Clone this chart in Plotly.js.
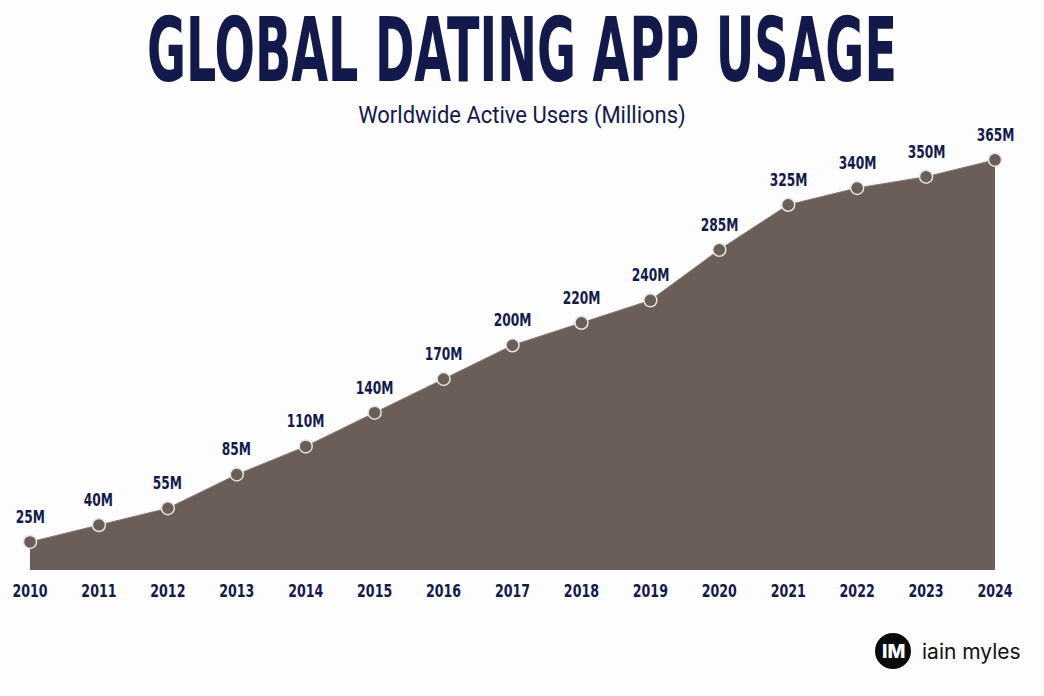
<!DOCTYPE html>
<html>
<head>
<meta charset="utf-8">
<script src="https://cdn.plot.ly/plotly-3.0.1.min.js"></script>
<style>
  html, body { margin: 0; padding: 0; background: #fdfdfd; }
  #chart { width: 1044px; height: 696px; }
</style>
</head>
<body>
<div id="chart"></div>
<script>
const years = [2010, 2011, 2012, 2013, 2014, 2015, 2016, 2017, 2018, 2019, 2020, 2021, 2022, 2023, 2024];
const users = [25, 40, 55, 85, 110, 140, 170, 200, 220, 240, 285, 325, 340, 350, 365];
const valueLabels = ["25M", "40M", "55M", "85M", "110M", "140M", "170M", "200M", "220M", "240M", "285M", "325M", "340M", "350M", "365M"];
const yearLabels = ["2010", "2011", "2012", "2013", "2014", "2015", "2016", "2017", "2018", "2019", "2020", "2021", "2022", "2023", "2024"];

const W = 1044, H = 696;
const navy = "#131a4b";
const fillC = "#6b5e58";
const narrow = "'DejaVu Sans Condensed', 'DejaVu Sans', sans-serif";

const trace = {
  x: years,
  y: users,
  type: "scatter",
  mode: "lines+markers",
  fill: "tozeroy",
  fillcolor: fillC,
  line: { color: "#857a75", width: 1 },
  marker: { size: 13, color: fillC, line: { color: "#e6e3e2", width: 1.5 } },
  cliponaxis: false,
  hoverinfo: "skip"
};

const annotations = years.map((yr, i) => ({
  x: yr, y: users[i], xref: "x", yref: "y",
  text: valueLabels[i], showarrow: false,
  yanchor: "bottom", yshift: 13,
  font: { family: narrow, size: 17, color: navy, weight: 700 }
}));

annotations.push({
  x: 920 / W, y: 1 - 651 / H, xref: "paper", yref: "paper",
  xanchor: "left", yanchor: "middle",
  text: "iain myles", showarrow: false,
  font: { family: "Inter, Roboto, sans-serif", size: 21, color: "#111" }
});
annotations.push({
  x: 893 / W, y: 1 - 651 / H, xref: "paper", yref: "paper",
  xanchor: "center", yanchor: "middle",
  text: "IM", showarrow: false,
  font: { family: "Inter, Roboto, sans-serif", size: 19, color: "#ffffff", weight: 800 }
});
annotations.push({
  x: 0.5, y: 1 - 115 / H, xref: "paper", yref: "paper",
  xanchor: "center", yanchor: "middle",
  text: "Worldwide Active Users (Millions)", showarrow: false,
  font: { family: "Roboto, sans-serif", size: 22, color: navy }
});

const layout = {
  width: W, height: H,
  margin: { l: 0, r: 0, t: 0, b: 0 },
  paper_bgcolor: "#fdfdfd",
  plot_bgcolor: "rgba(0,0,0,0)",
  showlegend: false,
  title: {
    text: "GLOBAL DATING APP USAGE",
    x: 0.5, xanchor: "center",
    xref: "paper", yref: "paper",
    y: 1 - 50 / H, yanchor: "middle",
    font: { family: narrow, size: 48, color: navy, weight: 700 }
  },
  xaxis: {
    domain: [30 / W, 995 / W],
    range: [2010, 2024],
    tickvals: years, ticktext: yearLabels,
    showgrid: false, zeroline: false, showline: false,
    ticks: "outside", ticklen: 4, tickcolor: "rgba(0,0,0,0)",
    tickfont: { family: narrow, size: 18, color: navy, weight: 700 },
    fixedrange: true
  },
  yaxis: {
    domain: [(H - 570) / H, (H - 143) / H],
    range: [0, 380],
    showgrid: false, zeroline: false, showline: false,
    showticklabels: false, ticks: "",
    fixedrange: true
  },
  shapes: [{
    type: "circle", xref: "paper", yref: "paper",
    x0: 875 / W, x1: 911 / W, y0: 1 - 669 / H, y1: 1 - 633 / H,
    fillcolor: "#0a0a0a", line: { width: 0 }
  }],
  annotations: annotations
};

function squeeze(el, sx, sy) {
  const bb = el.getBBox();
  const cx = bb.x + bb.width / 2;
  const cy = bb.y + bb.height / 2;
  const prev = el.getAttribute("transform") || "";
  el.setAttribute("transform",
    `${prev} translate(${cx},${cy}) scale(${sx},${sy}) translate(${-cx},${-cy})`);
}

Plotly.newPlot("chart", [trace], layout, { displayModeBar: false, staticPlot: true }).then(() => {
  const t = document.querySelector(".gtitle");
  if (t) {
    const bb = t.getBBox();
    squeeze(t, 750 / bb.width, 1.86);
  }
  document.querySelectorAll(".annotation-text").forEach((el) => {
    if (/^\d+M$/.test(el.textContent)) squeeze(el, 0.8, 1);
    if (el.textContent.indexOf("Worldwide") === 0) squeeze(el, 1, 1.08);
  });
  document.querySelectorAll(".xtick text").forEach((el) => squeeze(el, 0.78, 1));
});
</script>
</body>
</html>
